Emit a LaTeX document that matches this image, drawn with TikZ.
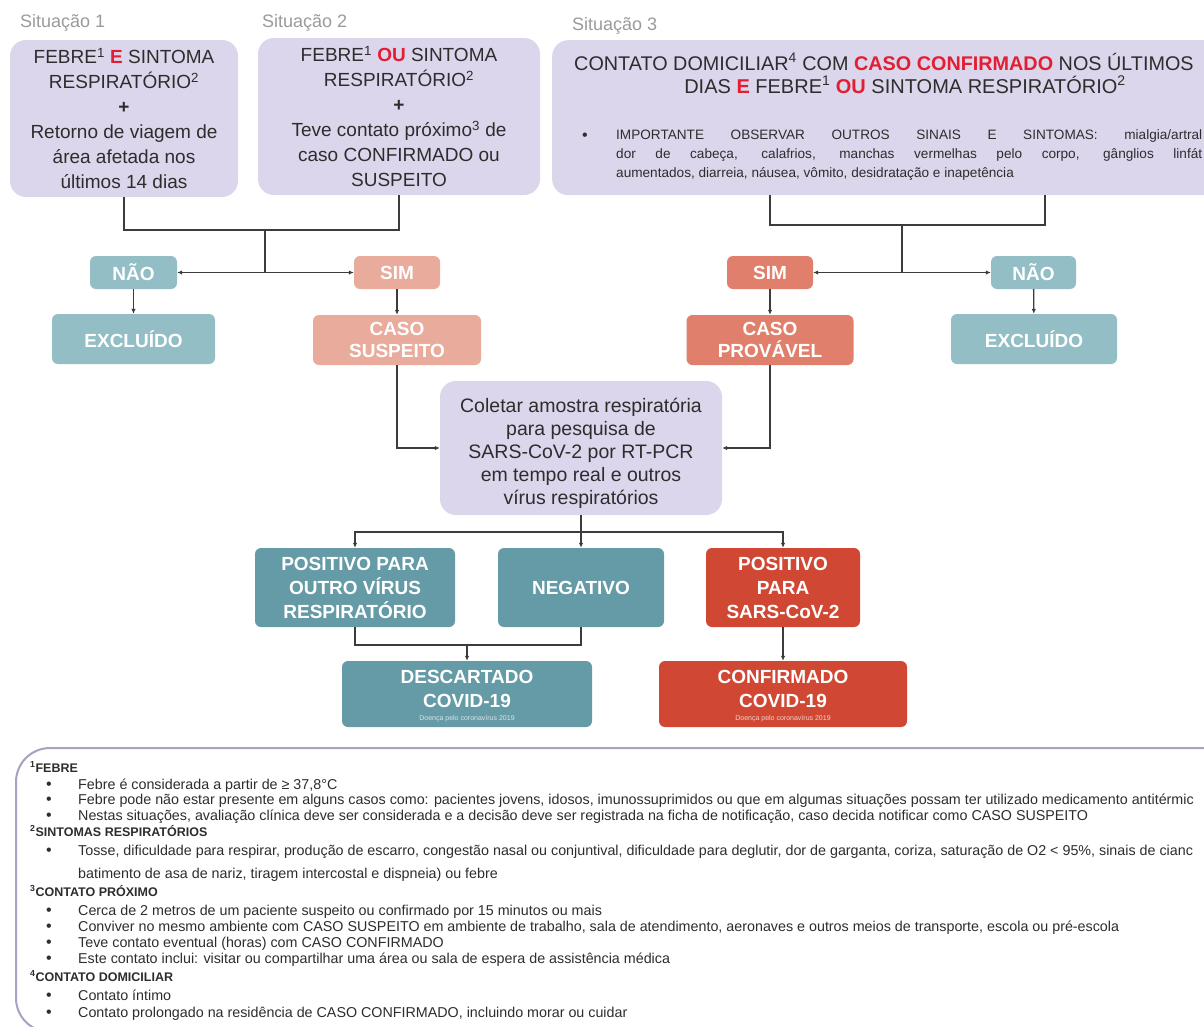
\documentclass[tikz,border=0pt]{standalone}
\usepackage{fontspec}
\setmainfont{Liberation Sans}
\usetikzlibrary{arrows.meta,calc}
\definecolor{lav}{RGB}{219,214,235}
\definecolor{tealL}{RGB}{147,190,198}
\definecolor{tealD}{RGB}{101,155,166}
\definecolor{salL}{RGB}{233,171,156}
\definecolor{salD}{RGB}{224,128,108}
\definecolor{redD}{RGB}{208,72,52}
\definecolor{redT}{RGB}{228,30,50}
\definecolor{txt}{RGB}{45,45,45}
\definecolor{sit}{RGB}{155,155,155}
\definecolor{lineC}{RGB}{60,60,60}
\definecolor{frameC}{RGB}{165,162,195}
\newcommand{\rd}[1]{{\color{redT}\bfseries #1}}
\newcommand{\sups}[1]{\textsuperscript{#1}}
\tikzset{
  lavbox/.style={fill=lav, rounded corners=16pt, text=txt, align=center, inner sep=0pt},
  lbl/.style={text=white, font=\fontsize{19}{23}\selectfont\bfseries, align=center, rounded corners=6pt, inner sep=0pt},
  conn/.style={draw=lineC, line width=1.3pt},
  arr/.style={conn, -{Latex[length=5pt,width=4.5pt]}},
  sitlabel/.style={text=sit, anchor=base west, font=\fontsize{18}{20}\selectfont, inner sep=0pt},
  fn/.style={anchor=base west, inner sep=0pt, text=txt, font=\fontsize{14.3}{16}\selectfont},
  bt/.style={anchor=base west, inner sep=0pt, text=txt, font=\fontsize{13.6}{16}\selectfont},
  fnh/.style={anchor=base west, inner sep=0pt, text=txt, font=\fontsize{12.5}{15}\selectfont\bfseries},
  bul/.style={anchor=base, inner sep=0pt, text=txt, font=\fontsize{16}{16}\selectfont},
  small/.style={text=white, opacity=0.75, font=\fontsize{7}{8}\selectfont, inner sep=0pt},
  plain/.style={inner sep=0pt, text=txt, align=center},
}
\begin{document}
\begin{tikzpicture}[x=1pt,y=-1pt]
\useasboundingbox (0,0) rectangle (1204,1026);
\clip (0,0) rectangle (1204,1026);
\fill[white] (0,0) rectangle (1204,1026);

% situation labels
\node[sitlabel] (s1) at (20,27) {Situação 1};
\node[sitlabel] (s2) at (262,27) {Situação 2};
\node[sitlabel] (s3) at (572,30) {Situação 3};

% top boxes
\node[lavbox, minimum width=228pt, minimum height=157pt, font=\fontsize{19}{25}\selectfont] (box1) at (124,118.5)
 {FEBRE\sups{1} \rd{E} SINTOMA\\RESPIRATÓRIO\sups{2}\\\textbf{+}\\Retorno de viagem de\\área afetada nos\\últimos 14 dias};
\node[lavbox, minimum width=282pt, minimum height=157pt, font=\fontsize{19}{25}\selectfont] (box2) at (399,116.5)
 {FEBRE\sups{1} \rd{OU} SINTOMA\\RESPIRATÓRIO\sups{2}\\\textbf{+}\\Teve contato próximo\sups{3} de\\caso CONFIRMADO ou\\SUSPEITO};
\node[lavbox, minimum width=720pt, minimum height=155pt, anchor=north west] (box3) at (552,40) {};
\node[anchor=base west, inner sep=0pt, text=txt, font=\fontsize{19.8}{24}\selectfont] (b3l1) at (574,70)
 {CONTATO DOMICILIAR\sups{4} COM \rd{CASO CONFIRMADO} NOS ÚLTIMOS};
\node[anchor=base, inner sep=0pt, text=txt, font=\fontsize{20}{24}\selectfont] (b3l2) at (905,93)
 {DIAS \rd{E} FEBRE\sups{1} \rd{OU} SINTOMA RESPIRATÓRIO\sups{2}};
\node[bul] (b3b) at (585,140) {•};
\node[bt] (b3t1) at (616,139) {\makebox[586pt][s]{IMPORTANTE OBSERVAR OUTROS SINAIS E SINTOMAS: mialgia/artral}};
\node[bt] (b3t2) at (616,158) {\makebox[586pt][s]{dor de cabeça, calafrios, manchas vermelhas pelo corpo, gânglios linfát}};
\node[bt] (b3t3) at (616,177) {aumentados, diarreia, náusea, vômito, desidratação e inapetência};

% decision labels
\node[lbl, fill=tealL, minimum width=87pt, minimum height=33pt] (nao1) at (133.5,272.5) {NÃO};
\node[lbl, fill=tealL, minimum width=163pt, minimum height=50pt] (excl1) at (133.5,339) {EXCLUÍDO};
\node[lbl, fill=salL, minimum width=86pt, minimum height=33pt] (sim1) at (397,272.5) {SIM};
\node[lbl, fill=salL, minimum width=168pt, minimum height=50pt, font=\fontsize{19}{22}\selectfont\bfseries] (susp) at (397,340) {CASO\\SUSPEITO};
\node[lbl, fill=salD, minimum width=86pt, minimum height=33pt] (sim2) at (770,272.5) {SIM};
\node[lbl, fill=salD, minimum width=167pt, minimum height=50pt, font=\fontsize{19}{22}\selectfont\bfseries] (prov) at (770,340) {CASO\\PROVÁVEL};
\node[lbl, fill=tealL, minimum width=85pt, minimum height=33pt] (nao2) at (1033.5,272.5) {NÃO};
\node[lbl, fill=tealL, minimum width=166pt, minimum height=50pt] (excl2) at (1034,339) {EXCLUÍDO};

% central box
\node[lavbox, minimum width=282pt, minimum height=134pt] (coleta) at (581,448) {};
\node[plain, font=\fontsize{19.5}{23}\selectfont] (coletat) at (581,453)
 {Coletar amostra respiratória\\para pesquisa de\\SARS-CoV-2 por RT-PCR\\em tempo real e outros\\vírus respiratórios};

% results
\node[lbl, fill=tealD, minimum width=200pt, minimum height=79pt, font=\fontsize{19}{24}\selectfont\bfseries] (pos1) at (355,587.5) {POSITIVO PARA\\OUTRO VÍRUS\\RESPIRATÓRIO};
\node[lbl, fill=tealD, minimum width=166pt, minimum height=79pt] (neg) at (581,587.5) {NEGATIVO};
\node[lbl, fill=redD, minimum width=154pt, minimum height=79pt, font=\fontsize{19}{24}\selectfont\bfseries] (pos2) at (783,587.5) {POSITIVO\\PARA\\SARS-CoV-2};
\node[lbl, fill=tealD, minimum width=250pt, minimum height=66pt] (desc) at (467,694) {};
\node[text=white, font=\fontsize{19}{24}\selectfont\bfseries, align=center, inner sep=0pt] (desct) at (467,689) {DESCARTADO\\COVID-19};
\node[small] (descs) at (467,719) {Doença pelo coronavírus 2019};
\node[lbl, fill=redD, minimum width=248pt, minimum height=66pt] (conf) at (783,694) {};
\node[text=white, font=\fontsize{19}{24}\selectfont\bfseries, align=center, inner sep=0pt] (conft) at (783,689) {CONFIRMADO\\COVID-19};
\node[small] (confs) at (783,719) {Doença pelo coronavírus 2019};

% connectors
\coordinate (j1) at (265,230);
\coordinate (j2) at (265,272.5);
\draw[conn] (box1.south) |- (j1) -| (box2.south);
\draw[conn] (j1) -- (j2);
\draw[arr] (j2) -- (nao1.east);
\draw[arr] (j2) -- (sim1.west);
\draw[arr] (nao1) -- (excl1);
\draw[arr] (sim1) -- (susp);

\coordinate (b3a) at (770,195);
\coordinate (b3c) at (1045,195);
\coordinate (j3) at (902,225);
\coordinate (j4) at (902,272.5);
\draw[conn] (b3a) |- (j3) -| (b3c);
\draw[conn] (j3) -- (j4);
\draw[arr] (j4) -- (sim2.east);
\draw[arr] (j4) -- (nao2.west);
\draw[arr] (sim2) -- (prov);
\draw[arr] (nao2) -- (excl2);

\draw[arr] (susp.south) |- (coleta.west);
\draw[arr] (prov.south) |- (coleta.east);

\coordinate (j5) at (581,532);
\draw[conn] (coleta.south) -- (j5);
\draw[arr] (j5) -| (pos1.north);
\draw[arr] (j5) -- (neg.north);
\draw[arr] (j5) -| (pos2.north);
\coordinate (j6) at (467,645);
\draw[conn] (pos1.south) |- (j6) -| (neg.south);
\draw[arr] (j6) -- (desc.north);
\draw[arr] (pos2) -- (conf);

% footnote frame
\draw[frameC, line width=2pt, rounded corners=34pt] (1250,748) -- (16,748) -- (16,1032) -- (1250,1032);

% footnotes
\node[fnh] (f1) at (30,772) {\sups{1}FEBRE};
\node[bul] (f1b1) at (49,789) {•};
\node[fn] (f1t1) at (78,789) {Febre é considerada a partir de ≥ 37,8°C};
\node[bul] (f1b2) at (49,804) {•};
\node[fn] (f1t2) at (78,804) {Febre pode não estar presente em alguns casos como: pacientes jovens, idosos, imunossuprimidos ou que em algumas situações possam ter utilizado medicamento antitérmic};
\node[bul] (f1b3) at (49,820) {•};
\node[fn] (f1t3) at (78,820) {Nestas situações, avaliação clínica deve ser considerada e a decisão deve ser registrada na ficha de notificação, caso decida notificar como CASO SUSPEITO};
\node[fnh] (f2) at (30,836) {\sups{2}SINTOMAS RESPIRATÓRIOS};
\node[bul] (f2b1) at (49,855) {•};
\node[fn] (f2t1) at (78,855) {Tosse, dificuldade para respirar, produção de escarro, congestão nasal ou conjuntival, dificuldade para deglutir, dor de garganta, coriza, saturação de O2 < 95\%, sinais de cianc};
\node[fn] (f2t2) at (78,878) {batimento de asa de nariz, tiragem intercostal e dispneia) ou febre};
\node[fnh] (f3) at (30,896) {\sups{3}CONTATO PRÓXIMO};
\node[bul] (f3b1) at (49,915) {•};
\node[fn] (f3t1) at (78,915) {Cerca de 2 metros de um paciente suspeito ou confirmado por 15 minutos ou mais};
\node[bul] (f3b2) at (49,931) {•};
\node[fn] (f3t2) at (78,931) {Conviver no mesmo ambiente com CASO SUSPEITO em ambiente de trabalho, sala de atendimento, aeronaves e outros meios de transporte, escola ou pré-escola};
\node[bul] (f3b3) at (49,947) {•};
\node[fn] (f3t3) at (78,947) {Teve contato eventual (horas) com CASO CONFIRMADO};
\node[bul] (f3b4) at (49,963) {•};
\node[fn] (f3t4) at (78,963) {Este contato inclui: visitar ou compartilhar uma área ou sala de espera de assistência médica};
\node[fnh] (f4) at (30,981) {\sups{4}CONTATO DOMICILIAR};
\node[bul] (f4b1) at (49,1000) {•};
\node[fn] (f4t1) at (78,1000) {Contato íntimo};
\node[bul] (f4b2) at (49,1017) {•};
\node[fn] (f4t2) at (78,1017) {Contato prolongado na residência de CASO CONFIRMADO, incluindo morar ou cuidar};
\end{tikzpicture}
\end{document}
